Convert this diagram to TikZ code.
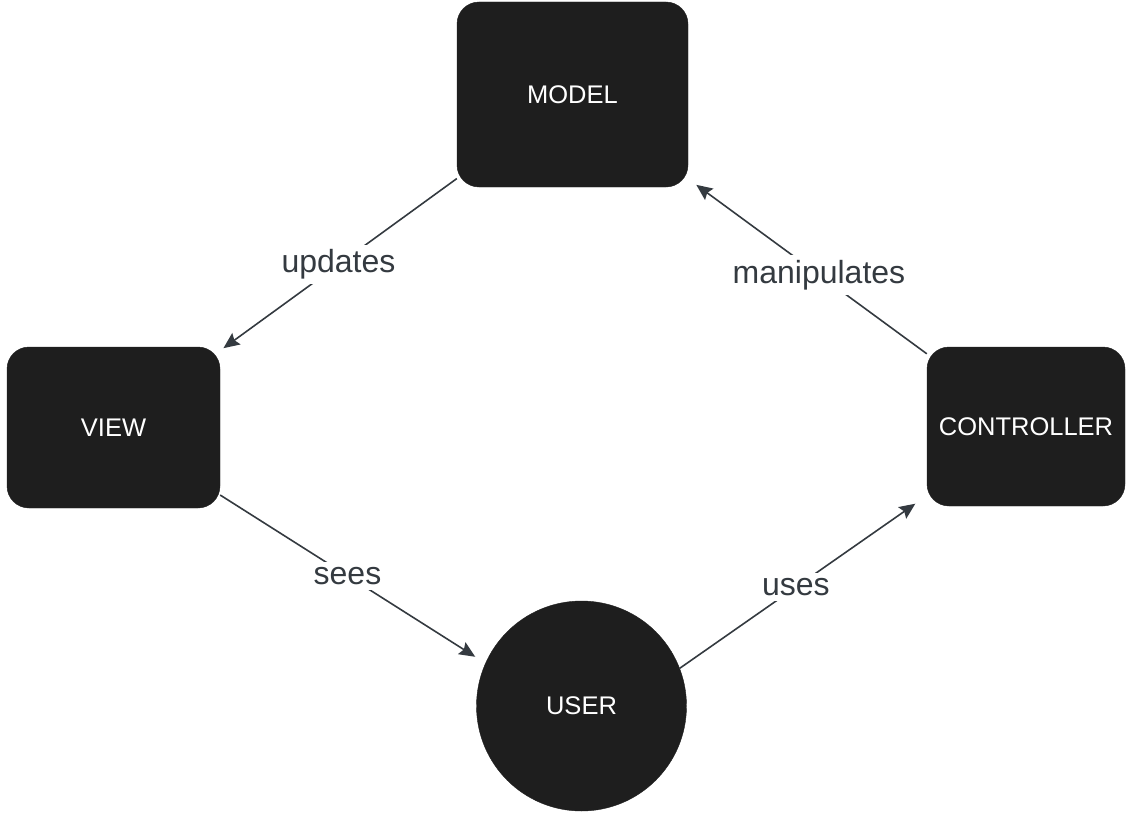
\documentclass[tikz,border=0pt]{standalone}
\usepackage{fontspec}
\setmainfont{Liberation Sans}
\usetikzlibrary{arrows.meta}
\definecolor{boxfill}{HTML}{1E1E1E}
\definecolor{ink}{HTML}{343A40}
\begin{document}
\begin{tikzpicture}[x=1pt,y=-1pt,
  block/.style={rectangle, rounded corners=22pt, fill=boxfill, draw=boxfill,
    text=white, font=\fontsize{25.5}{30}\selectfont, inner sep=0pt},
  userdot/.style={circle, fill=boxfill, draw=boxfill, text=white,
    font=\fontsize{25.5}{30}\selectfont, minimum size=210pt, inner sep=0pt},
  flow/.style={draw=ink, line width=1.6pt,
    -{Stealth[length=16pt,width=14pt,inset=2.5pt]}},
  tag/.style={fill=white, text=ink, font=\fontsize{32}{38}\selectfont, inner sep=5pt}]
\useasboundingbox (0,0) rectangle (1129,816);

% the four MVC participants
\node[block, minimum width=231pt, minimum height=185pt] (model) at (572.5,94.5) {MODEL};
\node[block, minimum width=213pt, minimum height=161pt] (view) at (113.5,427.5) {VIEW};
\node[block, minimum width=198pt, minimum height=159pt] (controller) at (1026,426.5) {CONTROLLER};
\node[userdot] (user) at (581.5,706) {USER};

% interactions
\draw[flow, shorten >=4pt] (model) -- node[tag, pos=0.5] {updates} (view);
\draw[flow, shorten >=10pt] (controller) -- node[tag, pos=0.452] {manipulates} (model);
\draw[flow, shorten >=12pt] (view) -- node[tag, pos=0.48] {sees} (user.156);
\draw[flow, shorten >=14pt] (user.21) -- node[tag, pos=0.47] {uses} (controller);
\end{tikzpicture}
\end{document}
